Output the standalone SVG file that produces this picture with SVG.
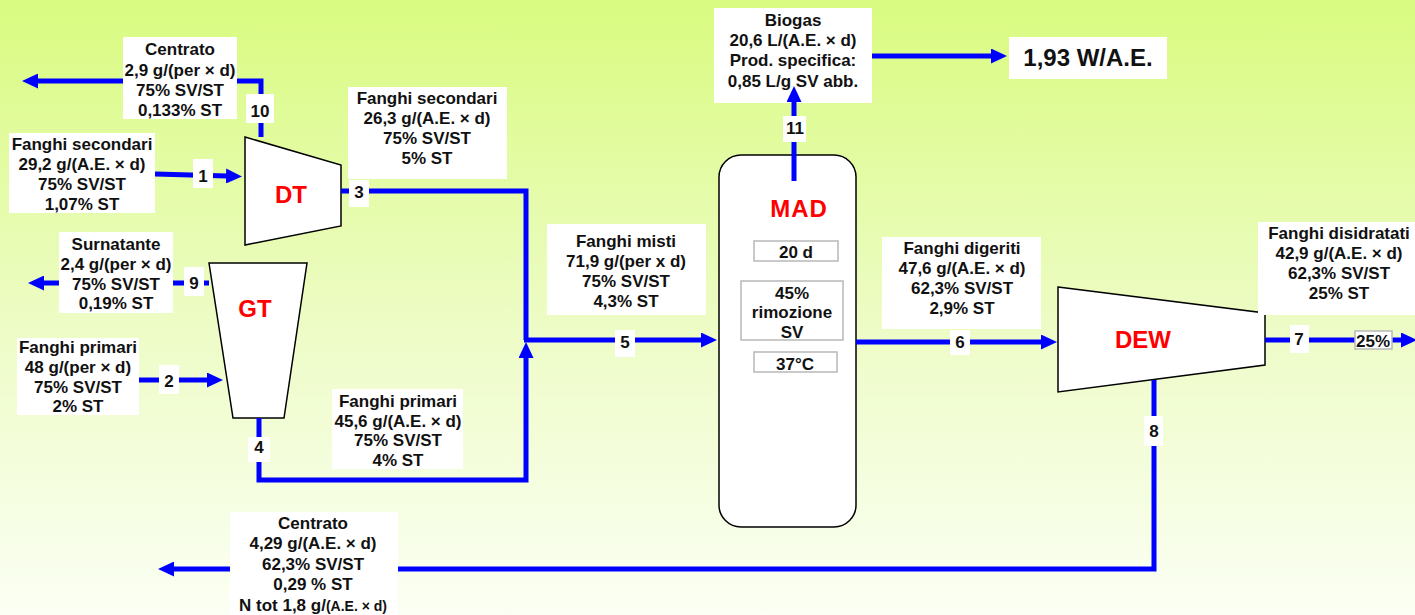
<svg xmlns="http://www.w3.org/2000/svg" width="1415" height="615" viewBox="0 0 1415 615">
<defs>
<linearGradient id="bg" x1="0" y1="0" x2="0" y2="1">
<stop offset="0" stop-color="#d9fb80"/>
<stop offset="0.55" stop-color="#eefcc8"/>
<stop offset="1" stop-color="#fbfff4"/>
</linearGradient>
<marker id="ah" markerUnits="userSpaceOnUse" markerWidth="16" markerHeight="15" viewBox="0 0 16 15" refX="1" refY="7.5" orient="auto">
<path d="M0,0 L16,7.5 L0,15 z" fill="#0000ff"/>
</marker>
<style>
.t{font-family:"Liberation Sans",Arial,sans-serif;font-weight:bold;font-size:17px;fill:#111;text-anchor:middle}
.big{font-size:24px}
.red{fill:#ff0000;font-size:24px}
.box{fill:#fff}
.gbox{fill:#fff;stroke:#b8b8b8;stroke-width:1.5}
.unit{fill:#fff;stroke:#000;stroke-width:1.5}
.ln{fill:none;stroke:#0000ff;stroke-width:5}
</style>
</defs>
<rect width="1415" height="615" fill="url(#bg)"/>

<g id="node-DT">
<polygon class="unit" points="245,137 341,165 341,226 245,245"/>
<text class="t red" x="291" y="203">DT</text>
</g>
<g id="node-GT">
<polygon class="unit" points="209,263 307,263 284,418 233,418"/>
<text class="t red" x="255" y="317">GT</text>
</g>
<g id="node-MAD">
<rect class="unit" x="719" y="155" width="137" height="372" rx="22"/>
<text class="t red" x="799" y="217" letter-spacing="1">MAD</text>
<rect class="gbox" x="754" y="241" width="84" height="20"/>
<text class="t" x="796" y="258">20 d</text>
<rect class="gbox" x="741" y="281" width="102" height="59"/>
<text class="t" x="792" y="299">45%</text>
<text class="t" x="792" y="318">rimozione</text>
<text class="t" x="792" y="338">SV</text>
<rect class="gbox" x="754" y="352" width="83" height="20"/>
<text class="t" x="795" y="370">37°C</text>
</g>
<g id="node-DEW">
<polygon class="unit" points="1058,287 1265,313 1265,365 1058,392"/>
<text class="t red" x="1143" y="348">DEW</text>
</g>
<g id="node-biogas">
<rect class="box" x="714" y="8" width="158" height="95"/>
<text class="t" x="793" y="26">Biogas</text>
<text class="t" x="793" y="46">20,6 L/(A.E. × d)</text>
<text class="t" x="793" y="66">Prod. specifica:</text>
<text class="t" x="793" y="87">0,85 L/g SV abb.</text>
</g>

<g id="connectors">
<path class="ln" d="M155,174 L227,176" marker-end="url(#ah)"/>
<path class="ln" d="M139,380 H208" marker-end="url(#ah)"/>
<path class="ln" d="M341,191 H526 V340"/>
<path class="ln" d="M259,418 V480 H526 V357" marker-end="url(#ah)"/>
<path class="ln" d="M524,340 H702" marker-end="url(#ah)"/>
<path class="ln" d="M856,342 H1042" marker-end="url(#ah)"/>
<path class="ln" d="M1265,340 H1402" marker-end="url(#ah)"/>
<path class="ln" d="M1154,380 V569 H173" marker-end="url(#ah)"/>
<path class="ln" d="M209,283 H43" marker-end="url(#ah)"/>
<path class="ln" d="M261,137 V81 H37" marker-end="url(#ah)"/>
<path class="ln" d="M794,181 V101" marker-end="url(#ah)"/>
<path class="ln" d="M872,56 H992" marker-end="url(#ah)"/>
</g>

<g id="label-centrato-top">
<rect class="box" x="123" y="37" width="114" height="82"/>
<text class="t" x="180" y="55">Centrato</text>
<text class="t" x="180" y="75.5">2,9 g/(per × d)</text>
<text class="t" x="180" y="96">75% SV/ST</text>
<text class="t" x="180" y="116">0,133% ST</text>
</g>
<g id="label-fs-in">
<rect class="box" x="9" y="133" width="146" height="80"/>
<text class="t" x="82" y="150">Fanghi secondari</text>
<text class="t" x="82" y="170">29,2 g/(A.E. × d)</text>
<text class="t" x="82" y="190">75% SV/ST</text>
<text class="t" x="82" y="210">1,07% ST</text>
</g>
<g id="label-fs-out">
<rect class="box" x="348" y="87" width="159" height="92"/>
<text class="t" x="427" y="104">Fanghi secondari</text>
<text class="t" x="427" y="124">26,3 g/(A.E. × d)</text>
<text class="t" x="427" y="144">75% SV/ST</text>
<text class="t" x="427" y="164">5% ST</text>
</g>
<g id="label-surnatante">
<rect class="box" x="59" y="232" width="114" height="81"/>
<text class="t" x="116" y="250">Surnatante</text>
<text class="t" x="116" y="270">2,4 g/(per × d)</text>
<text class="t" x="116" y="290">75% SV/ST</text>
<text class="t" x="116" y="309">0,19% ST</text>
</g>
<g id="label-fp-in">
<rect class="box" x="17" y="338" width="122" height="77"/>
<text class="t" x="78" y="353">Fanghi primari</text>
<text class="t" x="78" y="373">48 g/(per × d)</text>
<text class="t" x="78" y="393">75% SV/ST</text>
<text class="t" x="78" y="412">2% ST</text>
</g>
<g id="label-fp-out">
<rect class="box" x="332" y="389" width="131" height="80"/>
<text class="t" x="398" y="407">Fanghi primari</text>
<text class="t" x="398" y="427">45,6 g/(A.E. × d)</text>
<text class="t" x="398" y="446">75% SV/ST</text>
<text class="t" x="398" y="466">4% ST</text>
</g>
<g id="label-misti">
<rect class="box" x="547" y="224" width="159" height="91"/>
<text class="t" x="626" y="247">Fanghi misti</text>
<text class="t" x="626" y="267">71,9 g/(per x d)</text>
<text class="t" x="626" y="287">75% SV/ST</text>
<text class="t" x="626" y="307">4,3% ST</text>
</g>
<g id="label-power">
<rect class="box" x="1009" y="37" width="158" height="42"/>
<text class="t big" x="1088" y="66">1,93 W/A.E.</text>
</g>
<g id="label-digeriti">
<rect class="box" x="882" y="237" width="159" height="92"/>
<text class="t" x="962" y="254">Fanghi digeriti</text>
<text class="t" x="962" y="274">47,6 g/(A.E. × d)</text>
<text class="t" x="962" y="294">62,3% SV/ST</text>
<text class="t" x="962" y="314">2,9% ST</text>
</g>
<g id="label-disidratati">
<rect class="box" x="1258" y="222" width="157" height="93"/>
<text class="t" x="1339" y="239">Fanghi disidratati</text>
<text class="t" x="1339" y="259">42,9 g/(A.E. × d)</text>
<text class="t" x="1339" y="279">62,3% SV/ST</text>
<text class="t" x="1339" y="299">25% ST</text>
</g>
<g id="label-centrato-bottom">
<rect class="box" x="230" y="512" width="168" height="103"/>
<text class="t" x="313" y="529">Centrato</text>
<text class="t" x="313" y="549">4,29 g/(A.E. × d)</text>
<text class="t" x="313" y="570">62,3% SV/ST</text>
<text class="t" x="313" y="590">0,29 % ST</text>
<text class="t" x="313" y="611">N tot 1,8 g/<tspan font-size="14">(A.E. × d)</tspan></text>
</g>

<g id="numbers">
<rect class="box" x="246" y="94" width="28" height="29"/><text class="t" x="260" y="117">10</text>
<rect class="box" x="193" y="159" width="20" height="29"/><text class="t" x="203" y="182">1</text>
<rect class="box" x="349" y="180" width="20" height="27"/><text class="t" x="359" y="198">3</text>
<rect class="box" x="184" y="267" width="20" height="29"/><text class="t" x="194" y="289">9</text>
<rect class="box" x="159" y="365" width="20" height="29"/><text class="t" x="169" y="387">2</text>
<rect class="box" x="248" y="437" width="22" height="25"/><text class="t" x="259" y="453">4</text>
<rect class="box" x="615" y="330" width="20" height="27"/><text class="t" x="625" y="348">5</text>
<rect class="box" x="950" y="330" width="20" height="25"/><text class="t" x="960" y="348">6</text>
<rect class="box" x="1290" y="325" width="19" height="28"/><text class="t" x="1299" y="345">7</text>
<rect class="box" x="1144" y="416" width="19" height="30"/><text class="t" x="1154" y="437">8</text>
<rect class="box" x="783" y="116" width="23" height="26"/><text class="t" x="795" y="134">11</text>
<rect class="gbox" x="1355" y="331" width="37" height="18"/><text class="t" x="1373" y="347" font-size="16">25%</text>
</g>
</svg>
